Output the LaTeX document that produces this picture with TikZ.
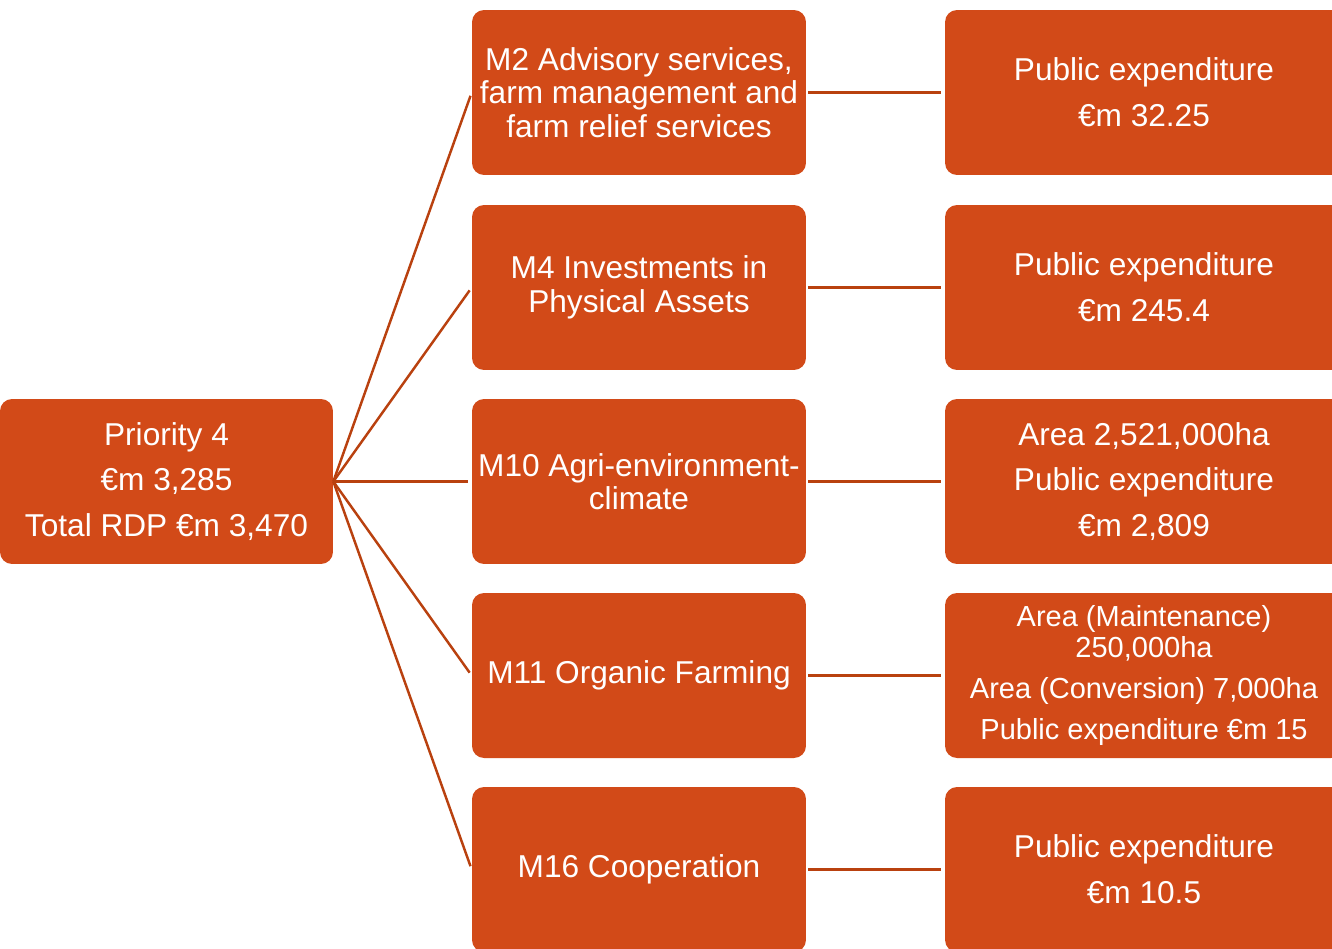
\documentclass[tikz,border=0pt]{standalone}
\usepackage{fontspec}
\setmainfont{Liberation Sans}
\definecolor{cam}{HTML}{D24A18}
\definecolor{camdam}{HTML}{B9410F}

\begin{document}
\begin{tikzpicture}[x=0.02cm,y=-0.02cm,
	hop/.style={fill=cam,text=white,rounded corners=0.24cm,minimum width=6.68cm,minimum height=3.3cm,inner sep=0pt,align=center,font=\fontsize{18}{19}\selectfont},
	hopgoc/.style={hop,minimum width=6.66cm,font=\fontsize{18}{26}\selectfont},
	hopphai/.style={hop,minimum width=7.96cm,font=\fontsize{18}{26}\selectfont},
	noi/.style={draw=camdam,line width=1.4pt}]
			\useasboundingbox (0,0) rectangle (1332,948);
			% Hộp gốc
			\node[hopgoc] (p4) at (166.5,481.5) {Priority 4\\€m 3,285\\Total RDP €m 3,470};
			% Các biện pháp
			\node[hop] (m2) at (639,92.5) {M2 Advisory services,\\farm management and\\farm relief services};
			\node[hop] (m4) at (639,287.5) {M4 Investments in\\Physical Assets};
			\node[hop] (m10) at (639,481.5) {M10 Agri-environment-\\climate};
			\node[hop] (m11) at (639,675.5) {M11 Organic Farming};
			\node[hop] (m16) at (639,869.5) {M16 Cooperation};
			% Kinh phí
			\node[hopphai] (e2) at (1144,92.5) {Public expenditure\\€m 32.25};
			\node[hopphai] (e4) at (1144,287.5) {Public expenditure\\€m 245.4};
			\node[hopphai] (e10) at (1144,481.5) {Area 2,521,000ha\\Public expenditure\\€m 2,809};
			\node[hopphai,font=\fontsize{16.5}{17.5}\selectfont] (e11) at (1144,675.5) {Area (Maintenance)\\250,000ha\\[6pt]Area (Conversion) 7,000ha\\[6pt]Public expenditure €m 15};
			\node[hopphai] (e16) at (1144,869.5) {Public expenditure\\€m 10.5};
			% Đường nối
			\foreach \m in {2,4,10,11,16}
			{
			\draw[noi,shorten >=2pt] (p4.east) -- (m\m.west);
			\draw[noi,shorten <=1pt,shorten >=2pt] (m\m.east) -- (e\m.west);
			}
		\end{tikzpicture}
\end{document}
